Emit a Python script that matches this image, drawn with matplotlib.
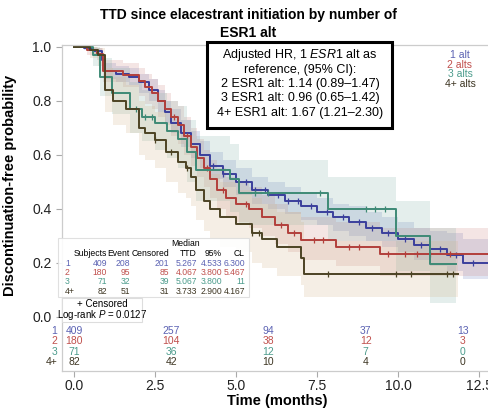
import numpy as np
import matplotlib.pyplot as plt
from matplotlib.patches import Rectangle

plt.rcParams['font.family'] = ['Liberation Sans', 'DejaVu Sans']
plt.rcParams['mathtext.fontset'] = 'custom'
plt.rcParams['mathtext.rm'] = 'Liberation Sans'
plt.rcParams['mathtext.it'] = 'Liberation Sans:italic'

# KM 曲线数据
groups = ['1', '2', '3', '4+']
legend_names = ['1 alt', '2 alts', '3 alts', '4+ alts']
line_colors = ['#3b3f9c', '#b23f3b', '#3e8a76', '#4c4324']
text_colors = ['#5b62b3', '#c0504d', '#4c9c8c', '#3d3522']
band_colors = ['#6f82c0', '#cf8a86', '#87b3aa', '#d2b68c']

t1 = [0, 0.3, 0.6, 0.85, 0.95, 1.3, 1.7, 2.0, 2.3, 2.6, 2.8, 3.0, 3.3, 3.6, 3.9, 4.2, 4.6, 5.0, 5.5,
      6.0, 6.5, 7.0, 7.5, 8.0, 8.5, 9.0, 9.5, 10.0, 10.5, 11.0, 11.5, 12.0, 12.84]
s1 = [1.0, 0.995, 0.985, 0.95, 0.91, 0.9, 0.89, 0.87, 0.84, 0.8, 0.76, 0.72, 0.68, 0.64, 0.6, 0.56, 0.53, 0.5, 0.47,
      0.45, 0.43, 0.41, 0.39, 0.37, 0.35, 0.33, 0.31, 0.29, 0.265, 0.25, 0.23, 0.2, 0.2]
lo1 = [1.0, 0.99, 0.97, 0.93, 0.88, 0.87, 0.86, 0.83, 0.8, 0.76, 0.72, 0.68, 0.63, 0.59, 0.55, 0.51, 0.48, 0.45, 0.42,
       0.4, 0.38, 0.36, 0.34, 0.32, 0.3, 0.28, 0.26, 0.24, 0.21, 0.19, 0.17, 0.14, 0.14]
hi1 = [1.0, 1.0, 0.995, 0.97, 0.94, 0.93, 0.92, 0.9, 0.88, 0.84, 0.8, 0.77, 0.73, 0.69, 0.65, 0.61, 0.58, 0.55, 0.52,
       0.5, 0.48, 0.46, 0.44, 0.42, 0.41, 0.39, 0.37, 0.35, 0.33, 0.32, 0.31, 0.29, 0.29]

t2 = [0, 0.4, 0.7, 0.9, 1.5, 2.0, 2.2, 2.4, 2.6, 2.8, 3.0, 3.2, 3.4, 3.6, 3.8, 4.0, 4.2, 4.4, 4.7,
      5.0, 5.4, 5.8, 6.2, 6.6, 7.0, 8.1, 9.45, 12.84]
s2 = [1.0, 0.99, 0.975, 0.91, 0.895, 0.875, 0.85, 0.83, 0.8, 0.77, 0.74, 0.71, 0.67, 0.63, 0.59, 0.55, 0.51, 0.47, 0.44,
      0.42, 0.4, 0.37, 0.34, 0.31, 0.285, 0.26, 0.235, 0.235]
lo2 = [1.0, 0.97, 0.95, 0.87, 0.85, 0.82, 0.79, 0.77, 0.74, 0.71, 0.67, 0.64, 0.6, 0.56, 0.52, 0.48, 0.44, 0.4, 0.37,
       0.35, 0.33, 0.3, 0.27, 0.24, 0.21, 0.19, 0.15, 0.15]
hi2 = [1.0, 1.0, 0.995, 0.95, 0.94, 0.92, 0.9, 0.88, 0.86, 0.83, 0.8, 0.78, 0.74, 0.7, 0.66, 0.62, 0.58, 0.55, 0.52,
       0.5, 0.48, 0.45, 0.42, 0.39, 0.37, 0.35, 0.33, 0.33]

t3 = [0, 0.6, 0.8, 1.17, 1.73, 2.1, 2.5, 2.86, 3.2, 3.5, 3.75, 4.8, 5.1, 7.85, 9.95, 11.0, 11.8]
s3 = [1.0, 0.97, 0.89, 0.83, 0.77, 0.74, 0.72, 0.69, 0.66, 0.61, 0.545, 0.51, 0.46, 0.4, 0.3, 0.195, 0.195]
lo3 = [1.0, 0.93, 0.82, 0.75, 0.68, 0.65, 0.62, 0.59, 0.55, 0.5, 0.43, 0.39, 0.34, 0.28, 0.17, 0.05, 0.05]
hi3 = [1.0, 1.0, 0.96, 0.92, 0.87, 0.84, 0.83, 0.8, 0.78, 0.73, 0.67, 0.64, 0.58, 0.52, 0.43, 0.33, 0.33]

t4 = [0, 0.5, 0.75, 0.95, 1.2, 1.6, 2.0, 2.2, 2.5, 2.85, 3.2, 3.45, 3.6, 3.75, 4.0, 4.2, 4.5, 5.0,
      5.5, 5.8, 6.25, 7.0, 7.1, 11.85]
s4 = [1.0, 0.99, 0.97, 0.84, 0.8, 0.77, 0.7, 0.68, 0.655, 0.61, 0.575, 0.55, 0.52, 0.47, 0.43, 0.4, 0.37, 0.345,
      0.31, 0.29, 0.26, 0.22, 0.16, 0.16]
lo4 = [1.0, 0.96, 0.93, 0.76, 0.71, 0.68, 0.6, 0.58, 0.55, 0.5, 0.46, 0.44, 0.41, 0.36, 0.32, 0.29, 0.26, 0.24,
       0.2, 0.18, 0.15, 0.12, 0.075, 0.075]
hi4 = [1.0, 1.0, 0.995, 0.92, 0.89, 0.86, 0.8, 0.78, 0.76, 0.72, 0.69, 0.67, 0.64, 0.59, 0.56, 0.53, 0.5, 0.47,
       0.44, 0.42, 0.39, 0.35, 0.28, 0.28]

cens1 = [4.3, 4.6, 5.3, 5.6, 5.9, 6.3, 6.6, 6.9, 7.3, 7.8, 8.3, 8.8, 9.2, 9.7, 10.2, 10.7, 11.3, 11.8, 12.3]
cens2 = [3.1, 3.5, 4.1, 4.6, 5.3, 6.4, 6.8, 7.4, 7.7, 8.5, 8.8, 9.7, 10.2, 10.6, 11.0, 11.6]
cens3 = [1.9, 2.2, 2.4, 5.6, 6.0, 7.6, 9.0, 9.3, 9.6]
cens4 = [2.5, 3.0, 3.5, 5.5, 5.7, 7.85, 9.93, 10.4, 11.5, 11.7]

times = [t1, t2, t3, t4]
survs = [s1, s2, s3, s4]
lows = [lo1, lo2, lo3, lo4]
highs = [hi1, hi2, hi3, hi4]
cens = [cens1, cens2, cens3, cens4]

# 风险表
risk_times = [0, 3, 6, 9, 12]
at_risk = [[409, 257, 94, 37, 13],
           [180, 104, 38, 12, 3],
           [71, 36, 12, 7, 0],
           [82, 42, 10, 4, 0]]

# 汇总表
subjects = [409, 180, 71, 82]
events = [208, 95, 32, 51]
censored = [201, 85, 39, 31]
median_ttd = ['5.267', '4.067', '5.067', '3.733']
ci_low = ['4.533', '3.800', '3.800', '2.900']
ci_high = ['6.300', '5.467', '11', '4.167']

hr_lines = [r'Adjusted HR, 1 $\it{ESR1}$ alt as', 'reference, (95% CI):',
            '2 ESR1 alt: 1.14 (0.89\u20131.47)', '3 ESR1 alt: 0.96 (0.65\u20131.42)',
            '4+ ESR1 alt: 1.67 (1.21\u20132.30)']

W, H = 489, 409
fig = plt.figure(figsize=(W / 100, H / 100), dpi=100)
ax = fig.add_axes([62 / W, 1 - 371 / H, (492 - 62) / W, (371 - 45) / H])


def fx(px):
    return px / W


def fy(py):
    return 1 - py / H


for i in range(4):
    t = np.array(times[i])
    s = np.array(survs[i])
    ax.fill_between(t, lows[i], highs[i], step='post', color=band_colors[i], alpha=0.22, lw=0)
    ax.step(t, s, where='post', color=line_colors[i], lw=1.4)
    ct = np.array(cens[i])
    cy = s[np.searchsorted(t, ct, side='right') - 1]
    ax.plot(ct, cy, ls='none', marker='|', ms=4, mew=0.9, color=line_colors[i])

ax.set_xlim(-0.37, 12.9)
ax.set_ylim(-0.2, 1.007)
ax.set_xticks([0, 2.5, 5, 7.5, 10, 12.5])
ax.set_xticklabels(['0.0', '2.5', '5.0', '7.5', '10.0', '12.5'])
ax.set_yticks([0, 0.2, 0.4, 0.6, 0.8, 1.0])
ax.set_yticklabels(['0.0', '0.2', '0.4', '0.6', '0.8', '1.0'])
ax.tick_params(length=4, color='#aaaaaa', labelsize=10, labelcolor='#222222', width=0.8)
ax.tick_params(axis='x', pad=2)
for sp in ax.spines.values():
    sp.set_color('#cccccc')
    sp.set_linewidth(0.9)
ax.spines['right'].set_visible(False)

ax.set_xlabel('Time (months)', fontsize=10.5, fontweight='bold')
ax.xaxis.set_label_coords(0.5, -0.072)
ax.set_ylabel('Discontinuation-free probability', fontsize=10.5, fontweight='bold')
ax.yaxis.set_label_coords(-0.105, 0.57)

# 风险表
row_y = [-0.052, -0.089, -0.13, -0.167]
for i in range(4):
    for j, tt in enumerate(risk_times):
        ax.text(tt, row_y[i], str(at_risk[i][j]), color=text_colors[i], fontsize=7.5,
                ha='center', va='center')
    ax.text(-0.52, row_y[i], groups[i], color=text_colors[i], fontsize=7.5,
            ha='right', va='center', clip_on=False)

# 标题
fig.text(fx(248), fy(15), 'TTD since elacestrant initiation by number of', fontsize=10,
         fontweight='bold', ha='center', va='center')
fig.text(fx(248), fy(33), 'ESR1 alt', fontsize=10, fontweight='bold', ha='center', va='center')

# HR 框
fig.patches.append(Rectangle((fx(207), fy(128)), fx(392) - fx(207), fy(42) - fy(128),
                             transform=fig.transFigure, fill=True, facecolor='white',
                             edgecolor='black', lw=2.2))
for k, line in enumerate(hr_lines):
    fig.text(fx(300), fy(55 + 14.5 * k), line, fontsize=9, ha='center', va='center')

# 图例
for i in range(4):
    fig.text(fx(460), fy(55 + 9.7 * i), legend_names[i], color=text_colors[i], fontsize=7.5,
             ha='center', va='center')

# 汇总表
fig.patches.append(Rectangle((fx(58), fy(297)), fx(249) - fx(58), fy(238) - fy(297),
                             transform=fig.transFigure, facecolor='white', edgecolor='#dddddd',
                             lw=0.8, alpha=0.9))
fs = 6.2
fig.text(fx(186), fy(244), 'Median', fontsize=fs, ha='center', va='center')
headers = [('Subjects', 107), ('Event', 130), ('Censored', 169), ('TTD', 197), ('95%', 222), ('CL', 245)]
for name, x in headers:
    fig.text(fx(x), fy(253), name, fontsize=fs, ha='right', va='center')
col_right = [107, 130, 169, 197, 222, 245]
for i in range(4):
    y = fy(263 + 9.5 * i)
    vals = [str(subjects[i]), str(events[i]), str(censored[i]), median_ttd[i], ci_low[i], ci_high[i]]
    fig.text(fx(65), y, groups[i], fontsize=fs, color=text_colors[i], ha='left', va='center')
    for v, x in zip(vals, col_right):
        fig.text(fx(x), y, v, fontsize=fs, color=text_colors[i], ha='right', va='center')

# 删失 / log-rank 框
fig.patches.append(Rectangle((fx(62), fy(322)), fx(142) - fx(62), fy(298) - fy(322),
                             transform=fig.transFigure, facecolor='white', edgecolor='#dddddd', lw=0.8))
fig.text(fx(102), fy(304), '+ Censored', fontsize=7, ha='center', va='center')
fig.text(fx(102), fy(315), r'Log-rank $\it{P}$ = 0.0127', fontsize=7, ha='center', va='center')

fig.savefig('out.png', dpi=100)
